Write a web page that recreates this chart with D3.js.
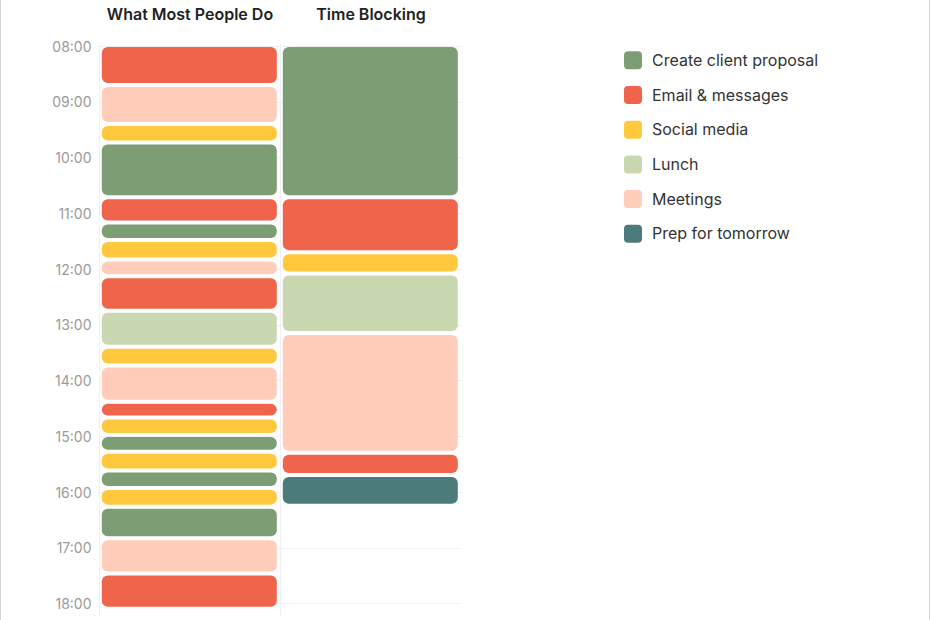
<!DOCTYPE html>
<html>
<head>
<meta charset="utf-8">
<script src="https://cdn.jsdelivr.net/npm/d3@7"></script>
<style>
  html, body { margin: 0; padding: 0; background: #fff; }
  svg { display: block; font-family: Inter, "Noto Sans", sans-serif; }
</style>
</head>
<body>
<div id="chart"></div>
<script>
var columns = ["What Most People Do", "Time Blocking"];

var categories = ["Create client proposal", "Email & messages", "Social media",
                  "Lunch", "Meetings", "Prep for tomorrow"];

var hourTicks = ["08:00", "09:00", "10:00", "11:00", "12:00", "13:00",
                 "14:00", "15:00", "16:00", "17:00", "18:00"];

// start, end, task
var typicalDay = [
  ["08:00", "08:43", "Email & messages"],
  ["08:43", "09:25", "Meetings"],
  ["09:25", "09:45", "Social media"],
  ["09:45", "10:44", "Create client proposal"],
  ["10:44", "11:11", "Email & messages"],
  ["11:11", "11:30", "Create client proposal"],
  ["11:30", "11:51", "Social media"],
  ["11:51", "12:09", "Meetings"],
  ["12:09", "12:46", "Email & messages"],
  ["12:46", "13:25", "Lunch"],
  ["13:25", "13:45", "Social media"],
  ["13:45", "14:24", "Meetings"],
  ["14:24", "14:41", "Email & messages"],
  ["14:41", "15:00", "Social media"],
  ["15:00", "15:18", "Create client proposal"],
  ["15:18", "15:38", "Social media"],
  ["15:38", "15:57", "Create client proposal"],
  ["15:57", "16:17", "Social media"],
  ["16:17", "16:51", "Create client proposal"],
  ["16:51", "17:29", "Meetings"],
  ["17:29", "18:07", "Email & messages"]
];

var blockedDay = [
  ["08:00", "10:44", "Create client proposal"],
  ["10:44", "11:43", "Email & messages"],
  ["11:43", "12:06", "Social media"],
  ["12:06", "13:10", "Lunch"],
  ["13:10", "15:19", "Meetings"],
  ["15:19", "15:43", "Email & messages"],
  ["15:43", "16:16", "Prep for tomorrow"]
];

var palette = ["#7d9e74", "#ef644b", "#ffc83d", "#c9d8b0", "#ffcdb9", "#4b7b7b"];

var width = 930,
    height = 620;

function minutes(s) {
  var p = s.split(":");
  return +p[0] * 60 + +p[1];
}

var svg = d3.select("#chart").append("svg")
  .attr("width", width)
  .attr("height", height);

// frame edges
svg.append("line").attr("x1", 0.5).attr("x2", 0.5).attr("y1", 0).attr("y2", height)
  .attr("stroke", "#d6d6d6");
svg.append("line").attr("x1", width - 0.5).attr("x2", width - 0.5).attr("y1", 0).attr("y2", height)
  .attr("stroke", "#d6d6d6");

var y = d3.scaleLinear()
  .domain([minutes(hourTicks[0]), minutes(hourTicks[hourTicks.length - 1])])
  .range([46, 603.3]);

var x = d3.scaleBand()
  .domain(columns)
  .range([99.5, 461.5]);

var color = d3.scaleOrdinal()
  .domain(categories)
  .range(palette);

// grid
svg.append("g").selectAll("line")
  .data(hourTicks)
  .join("line")
    .attr("x1", 99.5)
    .attr("x2", 461.5)
    .attr("y1", function(d) { return Math.round(y(minutes(d))) + 0.5; })
    .attr("y2", function(d) { return Math.round(y(minutes(d))) + 0.5; })
    .attr("stroke", "#f1eef6");

svg.append("g").selectAll("line")
  .data(columns)
  .join("line")
    .attr("x1", function(d) { return x(d); })
    .attr("x2", function(d) { return x(d); })
    .attr("y1", 44)
    .attr("y2", 617)
    .attr("stroke", "#f1eef6");

// y axis
var yAxis = d3.axisLeft(y)
  .tickValues(hourTicks.map(minutes))
  .tickFormat(function(d, i) { return hourTicks[i]; })
  .tickSize(0)
  .tickPadding(8);

svg.append("g")
  .attr("transform", "translate(99.5,0.7)")
  .call(yAxis)
  .call(function(g) { g.select(".domain").remove(); })
  .selectAll("text")
    .attr("fill", "#9a9a9a")
    .style("font-size", "14px")
    .style("font-family", "Inter, 'Noto Sans', sans-serif");

// column titles
svg.append("g").selectAll("text")
  .data(columns)
  .join("text")
    .attr("x", function(d) { return x(d) + x.bandwidth() / 2; })
    .attr("y", 20)
    .attr("text-anchor", "middle")
    .attr("fill", "#222")
    .style("font-size", "16px")
    .style("font-weight", 600)
    .text(function(d) { return d; });

// blocks
var days = [typicalDay, blockedDay];

days.forEach(function(day, i) {
  svg.append("g").selectAll("rect")
    .data(day)
    .join("rect")
      .attr("x", x(columns[i]) + 2.3)
      .attr("width", x.bandwidth() - 6)
      .attr("y", function(d) { return y(minutes(d[0])) + 1; })
      .attr("height", function(d) { return y(minutes(d[1])) - y(minutes(d[0])) - 4; })
      .attr("rx", 6)
      .attr("fill", function(d) { return color(d[2]); });
});

// legend
var legend = svg.append("g")
  .attr("transform", "translate(624,60.3)")
  .selectAll("g")
  .data(categories)
  .join("g")
    .attr("transform", function(d, i) { return "translate(0," + (i * 34.7) + ")"; });

legend.append("rect")
  .attr("x", 0)
  .attr("y", -9)
  .attr("width", 18)
  .attr("height", 18)
  .attr("rx", 4)
  .attr("fill", function(d) { return color(d); });

legend.append("text")
  .attr("x", 28)
  .attr("y", 0)
  .attr("dy", "0.35em")
  .attr("fill", "#333")
  .style("font-size", "16px")
  .text(function(d) { return d; });
</script>
</body>
</html>
